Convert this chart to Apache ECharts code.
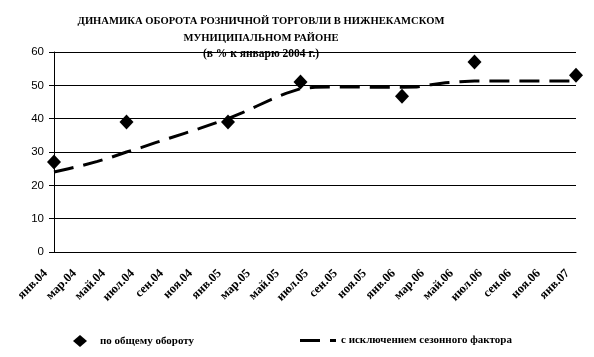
<!DOCTYPE html>
<html><head><meta charset="utf-8">
<script src="https://cdn.jsdelivr.net/npm/echarts@6/dist/echarts.min.js"></script>
<style>html,body{margin:0;padding:0;background:#fff}#c{width:594px;height:357px}</style>
</head><body><div id="c"></div>
<script>
const months = ["янв.04","фев.04","мар.04","апр.04","май.04","июн.04","июл.04","авг.04","сен.04","окт.04","ноя.04","дек.04",
"янв.05","фев.05","мар.05","апр.05","май.05","июн.05","июл.05","авг.05","сен.05","окт.05","ноя.05","дек.05",
"янв.06","фев.06","мар.06","апр.06","май.06","июн.06","июл.06","авг.06","сен.06","окт.06","ноя.06","дек.06","янв.07"];
const totalTurnover = [27,null,null,null,null,39,null,null,null,null,null,null,
39,null,null,null,null,51,null,null,null,null,null,null,
46.7,null,null,null,null,57,null,null,null,null,null,null,53];
const seasonAdjusted = [24.0,25.0,26.0,27.2,28.5,30.0,31.3,32.8,34.2,35.6,37.0,38.5,
40.0,41.8,43.8,45.8,47.6,49.0,49.4,49.5,49.5,49.5,49.4,49.4,
49.4,49.5,50.2,50.8,51.1,51.3,51.3,51.3,51.3,51.3,51.3,51.3,51.3];
const yTicks = [0,10,20,30,40,50,60];
const seriesNames = ["по общему обороту","с исключением сезонного фактора"];

const serif = '"Liberation Serif","Times New Roman",serif';
const chart = echarts.init(document.getElementById('c'), null, {renderer:'canvas'});
chart.setOption({
  animation:false,
  backgroundColor:'#fff',
  title:{
    text:'ДИНАМИКА ОБОРОТА РОЗНИЧНОЙ ТОРГОВЛИ В НИЖНЕКАМСКОМ\nМУНИЦИПАЛЬНОМ РАЙОНЕ',
    subtext:'(в % к январю 2004 г.)',
    left:261, top:13, padding:0, textAlign:'center', itemGap:1,
    textStyle:{fontFamily:serif,fontWeight:'bold',fontSize:10.6,color:'#000',lineHeight:17},
    subtextStyle:{fontFamily:serif,fontWeight:'bold',fontSize:11.5,color:'#000'}
  },
  legend:[
    {data:[seriesNames[0]], left:73, top:335, padding:0, itemWidth:14, itemHeight:12, itemGap:13,
     icon:'diamond',
     textStyle:{fontFamily:serif,fontWeight:'bold',fontSize:11,color:'#000',padding:[0,0,0,8]}},
    {data:[seriesNames[1]], left:300, top:335, padding:0, itemWidth:36, itemHeight:3, itemGap:1,
     icon:'path://M0,0H20V3H0Z M30,0H36V3H30Z',
     itemStyle:{color:'#000'},
     textStyle:{fontFamily:serif,fontWeight:'bold',fontSize:11,color:'#000'}}
  ],
  grid:{left:54,right:18,top:52,bottom:105,containLabel:false},
  xAxis:{
    type:'category', data:months, boundaryGap:false,
    axisLine:{lineStyle:{color:'#000',width:1}},
    axisTick:{show:false},
    axisLabel:{interval:1, rotate:45, margin:11, padding:[0,12,0,0], fontFamily:serif, fontWeight:'bold', fontSize:12.5, color:'#000'},
    splitLine:{show:false}
  },
  yAxis:{
    type:'value', min:yTicks[0], max:yTicks[yTicks.length-1], interval:10,
    axisLine:{show:true,lineStyle:{color:'#000',width:1}},
    axisTick:{show:true,length:5,lineStyle:{color:'#000'}},
    axisLabel:{fontFamily:'"Liberation Sans",Arial,sans-serif',fontSize:11.5,color:'#000',margin:10},
    splitLine:{show:true,lineStyle:{color:'#000',width:1}}
  },
  series:[
    {name:seriesNames[0], type:'line', data:totalTurnover, connectNulls:false,
     lineStyle:{width:0,opacity:0}, symbol:'diamond', symbolSize:[14,15], showAllSymbol:true,
     itemStyle:{color:'#000'}, z:3},
    {name:seriesNames[1], type:'line', data:seasonAdjusted, symbol:'none', smooth:false,
     lineStyle:{color:'#000',width:3,type:[20,10]}, itemStyle:{color:'#000'}, z:2}
  ]
});
</script></body></html>
